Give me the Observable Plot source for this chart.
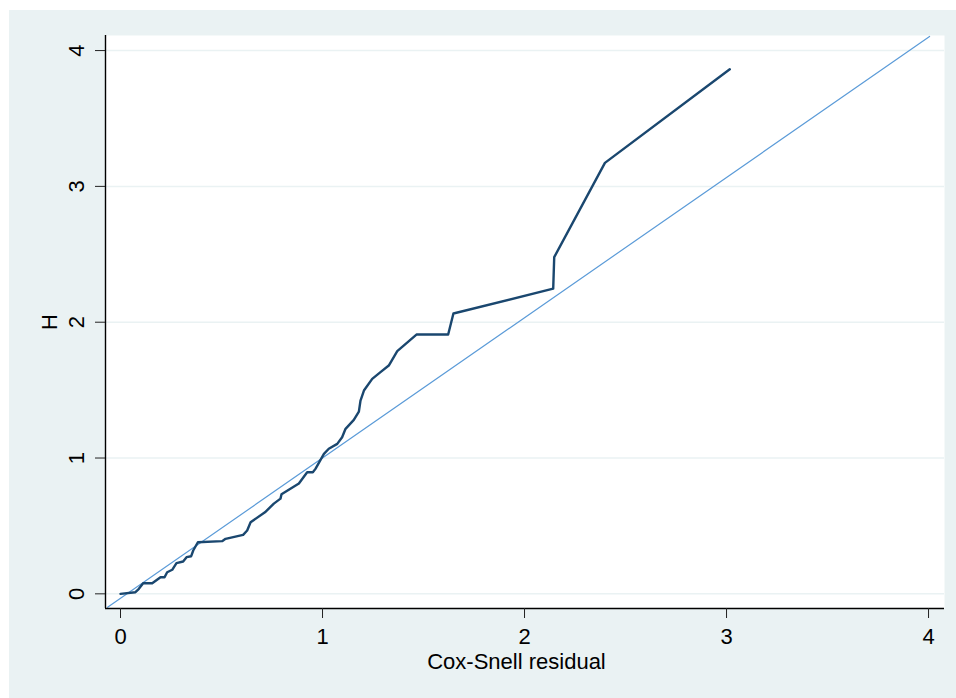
<!DOCTYPE html>
<html><head><meta charset="utf-8">
<script src="https://cdn.jsdelivr.net/npm/d3@7"></script>
<script src="https://cdn.jsdelivr.net/npm/@observablehq/plot@0.6"></script>
<style>
html,body{margin:0;padding:0;background:#fff;}
#chart{position:absolute;left:9px;top:10px;}
</style></head><body><div id="chart"></div>
<script>
// Cox-Snell residual (x) vs Nelson-Aalen cumulative hazard H (y)
const csResid = [0.000, 0.074, 0.091, 0.112, 0.157, 0.198, 0.218, 0.231, 0.256, 0.277, 0.310, 0.327, 0.350, 0.360, 0.383,
  0.503, 0.520, 0.607, 0.627, 0.644, 0.715, 0.759, 0.792, 0.797, 0.883, 0.924, 0.952, 0.965,
  1.007, 1.031, 1.073, 1.097, 1.114, 1.155, 1.180, 1.188, 1.205, 1.246, 1.287, 1.328, 1.370, 1.465,
  1.622, 1.648, 2.142, 2.147, 2.398, 3.016];
const cumHaz = [0.000, 0.012, 0.037, 0.078, 0.078, 0.122, 0.122, 0.159, 0.177, 0.226, 0.238, 0.270, 0.277, 0.319, 0.380,
  0.388, 0.405, 0.434, 0.466, 0.527, 0.600, 0.664, 0.701, 0.733, 0.812, 0.895, 0.895, 0.920,
  1.031, 1.068, 1.104, 1.153, 1.215, 1.281, 1.342, 1.423, 1.497, 1.583, 1.632, 1.681, 1.787, 1.909,
  1.909, 2.064, 2.247, 2.479, 3.173, 3.862];
// reference line
const refX = [-0.064, 4.005];
const refY = [-0.099, 4.104];
const xTicks = [0, 1, 2, 3, 4];
const yTicks = [0, 1, 2, 3, 4];
const xLabel = "Cox-Snell residual";
const yLabel = "H";
const xDomain = [-0.0743, 4.079];
const yDomain = [-0.108, 4.111];

const curve = csResid.map((x, i) => ({x, y: cumHaz[i]}));
const ref = refX.map((x, i) => ({x, y: refY[i]}));
const font = "'Liberation Sans', Arial, Helvetica, sans-serif";

const chart = Plot.plot({
  width: 947, height: 688,
  marginLeft: 96, marginRight: 12, marginTop: 25, marginBottom: 90,
  style: {background: "#EAF2F3", fontFamily: font, color: "#000", overflow: "visible"},
  x: {domain: xDomain},
  y: {domain: yDomain},
  marks: [
    Plot.frame({fill: "white", stroke: null}),
    Plot.gridY(yTicks, {stroke: "#EAF2F3", strokeOpacity: 1, strokeWidth: 1.5}),
    Plot.line(ref, {x: "x", y: "y", stroke: "#5b9bd8", strokeWidth: 1.2}),
    Plot.line(curve, {x: "x", y: "y", stroke: "#1a476f", strokeWidth: 2.4}),
    Plot.ruleX([xDomain[0]], {stroke: "#000", strokeWidth: 1.4}),
    Plot.ruleY([yDomain[0]], {stroke: "#000", strokeWidth: 1.4}),
    Plot.axisX(xTicks, {tickSize: 10, tickPadding: 10, fontSize: 22, label: null, stroke: "#222",
      tickFormat: d => String(d)}),
    Plot.axisY(yTicks, {tickSize: 10, tickFormat: () => "", label: null, stroke: "#222"}),
    Plot.text(yTicks, {y: d => d, text: d => String(d), frameAnchor: "left", dx: -21.7, rotate: -90,
      textAnchor: "middle", lineAnchor: "bottom", fontSize: 22, fill: "#000"}),
    Plot.text([xLabel], {text: d => d, frameAnchor: "bottom", dy: 60.7, dx: -8.5, lineAnchor: "bottom",
      fontSize: 22, fill: "#000"}),
    Plot.text([yLabel], {text: d => d, frameAnchor: "left", dx: -48.3, rotate: -90, textAnchor: "middle",
      lineAnchor: "bottom", fontSize: 22, fill: "#000"})
  ]
});
document.getElementById("chart").appendChild(chart);
</script>
</body></html>
